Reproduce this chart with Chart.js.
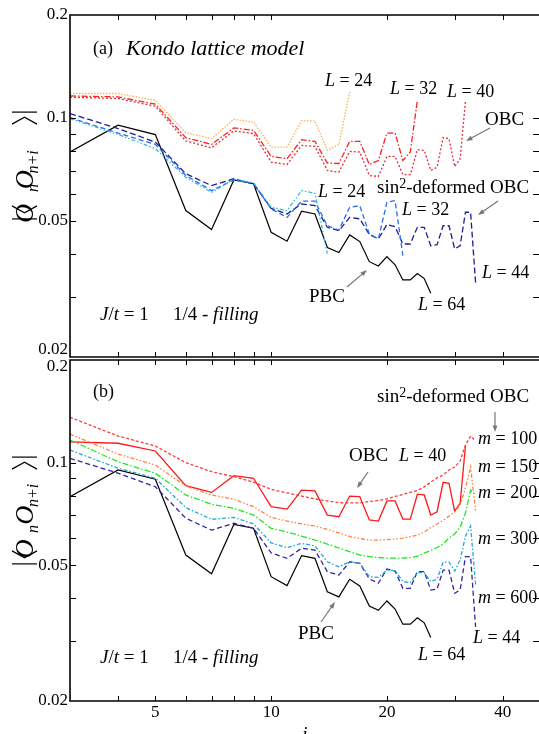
<!DOCTYPE html>
<html>
<head>
<meta charset="utf-8">
<script src="https://cdn.jsdelivr.net/npm/chart.js@4.4.0/dist/chart.umd.min.js"></script>
<style>
  html, body { margin: 0; padding: 0; background: #fff; overflow: hidden; }
  #wrap { position: relative; width: 539px; height: 734px; }
  #wrap canvas { position: absolute; left: 0; top: 0; }
</style>
</head>
<body>
<div id="wrap">
  <canvas id="panelA" width="539" height="734"></canvas>
  <canvas id="panelB" width="539" height="734"></canvas>
</div>
<script>
'use strict';

const SERIF = '"Liberation Serif", "Times New Roman", serif';

// distance i (x axis), shared by every series (series start at i = 3)
const sites = [3, 4, 5, 6, 7, 8, 9, 10, 11, 12, 13, 14, 15, 16, 17, 18, 19, 20,
               21, 22, 23, 24, 25, 26, 27, 28, 29, 30, 31, 32, 33, 34];

// PBC, L = 64 (same curve in both panels)
const pbcL64 = [0.0795, 0.0952, 0.0894, 0.0536, 0.0472, 0.0659, 0.0642, 0.0463, 0.0436, 0.0534,
                0.0524, 0.0418, 0.0404, 0.0455, 0.0435, 0.0380, 0.0369, 0.0393, 0.0372, 0.0336,
                0.0336, 0.0351, 0.0339, 0.0307];

// OBC
const obcL24 = [0.1179, 0.1179, 0.1126, 0.0906, 0.0870, 0.0991, 0.0973, 0.0822, 0.0822, 0.0980,
                0.0980, 0.0804, 0.0837, 0.1191];
const obcL32 = [0.1160, 0.1152, 0.1097, 0.0876, 0.0837, 0.0935, 0.0920, 0.0772, 0.0760, 0.0864,
                0.0854, 0.0738, 0.0736, 0.0854, 0.0854, 0.0731, 0.0751, 0.0903, 0.0903, 0.0751,
                0.0795, 0.1126];
const obcL40 = [0.1150, 0.1140, 0.1082, 0.0856, 0.0818, 0.0916, 0.0900, 0.0743, 0.0731, 0.0831,
                0.0826, 0.0702, 0.0694, 0.0798, 0.0795, 0.0679, 0.0674, 0.0772, 0.0772, 0.0683,
                0.0683, 0.0808, 0.0804, 0.0702, 0.0718, 0.0876, 0.0870, 0.0721, 0.0760, 0.1120];

// sin^2-deformed OBC
const sinL24 = [0.0996, 0.0895, 0.0813, 0.0671, 0.0606, 0.0662, 0.0647, 0.0548, 0.0536, 0.0613,
                0.0602, 0.0401];
const sinL32 = [0.1002, 0.0903, 0.0837, 0.0679, 0.0613, 0.0659, 0.0644, 0.0542, 0.0512, 0.0571,
                0.0571, 0.0484, 0.0470, 0.0548, 0.0554, 0.0458, 0.0443, 0.0567, 0.0573, 0.0396];
// L = 44, also the m = 600 curve of panel (b)
const sinL44 = [0.1030, 0.0931, 0.0850, 0.0687, 0.0634, 0.0664, 0.0642, 0.0544, 0.0524, 0.0561,
                0.0554, 0.0479, 0.0468, 0.0512, 0.0507, 0.0456, 0.0443, 0.0488, 0.0481, 0.0428,
                0.0428, 0.0479, 0.0479, 0.0423, 0.0426, 0.0484, 0.0484, 0.0414, 0.0423, 0.0530,
                0.0530, 0.0330];

// panel (b): sin^2-deformed OBC, L = 44, kept states m
const m100 = [0.1358, 0.1197, 0.1119, 0.1000, 0.0941, 0.0910, 0.0876, 0.0835, 0.0815, 0.0798,
              0.0783, 0.0772, 0.0763, 0.0762, 0.0762, 0.0769, 0.0775, 0.0783, 0.0796, 0.0807,
              0.0818, 0.0829, 0.0849, 0.0877, 0.0902, 0.0920, 0.0952, 0.0971, 0.1011, 0.1126,
              0.1197, 0.1157];
const m150 = [0.1213, 0.1060, 0.0984, 0.0854, 0.0804, 0.0781, 0.0743, 0.0691, 0.0674, 0.0661,
              0.0652, 0.0637, 0.0622, 0.0607, 0.0599, 0.0593, 0.0593, 0.0595, 0.0597, 0.0601,
              0.0607, 0.0613, 0.0626, 0.0645, 0.0661, 0.0677, 0.0697, 0.0717, 0.0751, 0.0843,
              0.0971, 0.0721];
const m200 = [0.1165, 0.1006, 0.0931, 0.0804, 0.0755, 0.0735, 0.0702, 0.0642, 0.0626, 0.0609,
              0.0593, 0.0577, 0.0562, 0.0548, 0.0536, 0.0530, 0.0527, 0.0525, 0.0525, 0.0525,
              0.0527, 0.0532, 0.0543, 0.0553, 0.0564, 0.0577, 0.0601, 0.0618, 0.0647, 0.0712,
              0.0831, 0.0804];
const m300 = [0.1089, 0.0963, 0.0900, 0.0738, 0.0682, 0.0691, 0.0661, 0.0582, 0.0563, 0.0580,
              0.0570, 0.0512, 0.0495, 0.0512, 0.0507, 0.0463, 0.0461, 0.0484, 0.0482, 0.0448,
              0.0445, 0.0476, 0.0476, 0.0448, 0.0455, 0.0511, 0.0511, 0.0481, 0.0518, 0.0609,
              0.0652, 0.0438];
const m600 = sinL44;

// axes
const xMin = 3, xMax = 49.7;
const yMin = 0.02, yMax = 0.2;
const xTicks = [4, 5, 6, 7, 8, 9, 10, 20, 30, 40];
const xTickLabels = ['5', '10', '20', '40'];
const yTicks = [0.03, 0.04, 0.05, 0.06, 0.07, 0.08, 0.09, 0.1];
const yTickLabels = ['0.02', '0.05', '0.1', '0.2'];

document.addEventListener('DOMContentLoaded', () => {

    const f = (size, italic) => (italic ? 'italic ' : '') + size + 'px ' + SERIF;

    function series(values) {
        return values.map((v, k) => ({ x: sites[k], y: v }));
    }

    function line(values, color, dash, width) {
        return {
            data: series(values),
            borderColor: color,
            borderDash: dash || [],
            borderWidth: width || 1.3,
            pointRadius: 0,
            fill: false,
            tension: 0
        };
    }

    // draw a run of text pieces with different fonts
    function rich(ctx, x, y, parts) {
        ctx.textBaseline = 'middle';
        ctx.textAlign = 'left';
        let cx = x;
        parts.forEach(p => {
            ctx.font = p.f;
            ctx.fillText(p.t, cx, y + (p.dy || 0));
            cx += ctx.measureText(p.t).width;
        });
    }

    function arrow(ctx, x1, y1, x2, y2) {
        const ang = Math.atan2(y2 - y1, x2 - x1);
        const h = 7;
        ctx.strokeStyle = '#777'; ctx.fillStyle = '#777'; ctx.lineWidth = 1.2;
        ctx.beginPath();
        ctx.moveTo(x1, y1);
        ctx.lineTo(x2 - Math.cos(ang) * h * 0.8, y2 - Math.sin(ang) * h * 0.8);
        ctx.stroke();
        ctx.beginPath();
        ctx.moveTo(x2, y2);
        ctx.lineTo(x2 - h * Math.cos(ang - 0.35), y2 - h * Math.sin(ang - 0.35));
        ctx.lineTo(x2 - h * Math.cos(ang + 0.35), y2 - h * Math.sin(ang + 0.35));
        ctx.closePath();
        ctx.fill();
    }

    // |<O_n O_n+i>| rotated
    function yTitle(ctx, cx, cy) {
        ctx.save();
        ctx.translate(cx, cy);
        ctx.rotate(-Math.PI / 2);
        ctx.fillStyle = '#000'; ctx.strokeStyle = '#000';
        const big = f(26, true), sub = f(16, true);
        const pieces = [
            { k: 'bar', w: 7 }, { k: 'lb', w: 11 },
            { k: 't', t: 'O', f: big }, { k: 't', t: 'n', f: sub, dy: 5 }, { k: 'gap', w: 5 },
            { k: 't', t: 'O', f: big }, { k: 't', t: 'n+i', f: sub, dy: 5 },
            { k: 'rb', w: 11 }, { k: 'bar', w: 7 }
        ];
        let total = 0;
        pieces.forEach(p => {
            if (p.k === 't') { ctx.font = p.f; p.w = ctx.measureText(p.t).width + 1; }
            total += p.w;
        });
        let x = -total / 2;
        ctx.textBaseline = 'alphabetic';
        ctx.lineWidth = 1.2;
        pieces.forEach(p => {
            if (p.k === 'bar') {
                ctx.beginPath(); ctx.moveTo(x + 3, -21); ctx.lineTo(x + 3, 4); ctx.stroke();
            } else if (p.k === 'lb') {
                ctx.beginPath(); ctx.moveTo(x + 9, -21); ctx.lineTo(x + 2, -8.5); ctx.lineTo(x + 9, 4); ctx.stroke();
            } else if (p.k === 'rb') {
                ctx.beginPath(); ctx.moveTo(x + 2, -21); ctx.lineTo(x + 9, -8.5); ctx.lineTo(x + 2, 4); ctx.stroke();
            } else if (p.k === 't') {
                ctx.font = p.f; ctx.fillText(p.t, x, p.dy || 0);
            }
            x += p.w;
        });
        ctx.restore();
    }

    const framePlugin = {
        id: 'frame',
        afterDatasetsDraw(chart, args, opts) {
            const { ctx, chartArea: a } = chart;
            const xs = chart.scales.x, ys = chart.scales.y;
            ctx.save();
            ctx.strokeStyle = '#000';
            ctx.lineWidth = 1.6;
            ctx.beginPath();
            ctx.moveTo(a.right, a.top); ctx.lineTo(a.left, a.top);
            ctx.lineTo(a.left, a.bottom); ctx.lineTo(a.right, a.bottom);
            ctx.stroke();

            ctx.lineWidth = 1;
            ctx.beginPath();
            xTicks.forEach(v => {
                const px = Math.round(xs.getPixelForValue(v)) + 0.5;
                ctx.moveTo(px, a.top); ctx.lineTo(px, a.top + 5);
                ctx.moveTo(px, a.bottom); ctx.lineTo(px, a.bottom - 5);
            });
            yTicks.forEach(v => {
                const py = Math.round(ys.getPixelForValue(v)) + 0.5;
                ctx.moveTo(a.left, py); ctx.lineTo(a.left + 6, py);
                ctx.moveTo(a.right, py); ctx.lineTo(a.right - 6, py);
            });
            ctx.stroke();

            // y tick labels
            ctx.fillStyle = '#000';
            ctx.font = f(17);
            ctx.textAlign = 'right';
            ctx.textBaseline = 'middle';
            yTickLabels.forEach(s => {
                const v = parseFloat(s);
                const py = ys.getPixelForValue(v) + (opts.yShift[s] || 0);
                ctx.fillText(s, a.left - 2, py);
            });

            // x tick labels
            if (opts.xLabels) {
                ctx.textAlign = 'center';
                xTickLabels.forEach(s => {
                    ctx.fillText(s, xs.getPixelForValue(parseFloat(s)), a.bottom + 12);
                });
                ctx.font = f(19, true);
                ctx.textBaseline = 'top';
                ctx.fillText('i', 305, a.bottom + 24);
            }

            yTitle(ctx, 33, opts.titleY);

            ctx.fillStyle = '#000';
            opts.texts.forEach(t => rich(ctx, t.x, t.y, t.parts));
            opts.arrows.forEach(r => arrow(ctx, r[0], r[1], r[2], r[3]));
            ctx.restore();
        }
    };

    const R18 = f(18), I18 = f(18, true), R19 = f(19), I19 = f(19, true);
    const Lbl = (n) => [{ t: 'L', f: I18 }, { t: ' = ' + n, f: R18 }];
    const Mbl = (n) => [{ t: 'm', f: I18 }, { t: ' = ' + n, f: R18 }];
    const sinTxt = [{ t: 'sin', f: R19 }, { t: '2', f: f(14), dy: -4 }, { t: '-deformed OBC', f: R19 }];
    const jtTexts = (y) => [
        { x: 100, y: y, parts: [{ t: 'J', f: I19 }, { t: '/', f: R19 }, { t: 't', f: I19 }, { t: ' = 1', f: R19 }] },
        { x: 173, y: y, parts: [{ t: '1/4 - ', f: R19 }, { t: 'filling', f: I19 }] }
    ];

    function makeChart(id, datasets, padding, frame) {
        const ctx = document.getElementById(id).getContext('2d');
        return new Chart(ctx, {
            type: 'line',
            data: { datasets: datasets },
            options: {
                responsive: false,
                animation: false,
                events: [],
                layout: { padding: padding },
                plugins: { legend: { display: false }, tooltip: { enabled: false }, frame: frame },
                scales: {
                    x: { type: 'logarithmic', min: xMin, max: xMax, display: false },
                    y: { type: 'logarithmic', min: yMin, max: yMax, display: false }
                }
            },
            plugins: [framePlugin]
        });
    }

    // panel (a)
    makeChart('panelA', [
        line(obcL24, '#ffb050', [1.5, 1.5]),
        line(obcL32, '#ff2020', [6, 2, 1.5, 2]),
        line(obcL40, '#e0303c', [2, 2]),
        line(sinL24, '#30b8e8', [4, 2, 1.5, 2, 1.5, 2]),
        line(sinL32, '#2a6cf0', [5, 3]),
        line(sinL44, '#1c1c98', [6, 3]),
        line(pbcL64, '#000000', [], 1.2)
    ], { left: 70, top: 15, right: 0, bottom: 377 }, {
        yShift: { '0.02': -7 },
        xLabels: false,
        titleY: 165,
        texts: [
            { x: 93, y: 49, parts: [{ t: '(a)', f: R18 }] },
            { x: 126, y: 49, parts: [{ t: 'Kondo lattice model', f: f(22, true) }] },
            { x: 325, y: 81, parts: Lbl(24) },
            { x: 390, y: 89, parts: Lbl(32) },
            { x: 447, y: 92, parts: Lbl(40) },
            { x: 485, y: 120, parts: [{ t: 'OBC', f: R19 }] },
            { x: 377, y: 188, parts: sinTxt },
            { x: 318, y: 192, parts: Lbl(24) },
            { x: 402, y: 210, parts: Lbl(32) },
            { x: 482, y: 273, parts: Lbl(44) },
            { x: 309, y: 297, parts: [{ t: 'PBC', f: R19 }] },
            { x: 418, y: 305, parts: Lbl(64) }
        ].concat(jtTexts(315)),
        arrows: [[490, 128, 466, 141], [498, 201, 478, 215], [347, 287, 367, 270]]
    });

    // panel (b)
    makeChart('panelB', [
        line(m100, '#ff3a3a', [3, 2]),
        line(m150, '#ff8040', [4, 2, 1.5, 2, 1.5, 2]),
        line(m200, '#22e622', [6, 2, 1.5, 2]),
        line(m300, '#20a8d8', [4, 2, 1.5, 2]),
        line(m600, '#3322a8', [5, 3]),
        line(obcL40, '#ff1818', [], 1.3),
        line(pbcL64, '#000000', [], 1.2)
    ], { left: 70, top: 360, right: 0, bottom: 33 }, {
        yShift: { '0.2': 7 },
        xLabels: true,
        titleY: 510,
        texts: [
            { x: 93, y: 392, parts: [{ t: '(b)', f: R18 }] },
            { x: 377, y: 397, parts: sinTxt },
            { x: 478, y: 439, parts: Mbl(100) },
            { x: 478, y: 467, parts: Mbl(150) },
            { x: 478, y: 493, parts: Mbl(200) },
            { x: 478, y: 539, parts: Mbl(300) },
            { x: 478, y: 598, parts: Mbl(600) },
            { x: 473, y: 638, parts: Lbl(44) },
            { x: 349, y: 456, parts: [{ t: 'OBC', f: R19 }] },
            { x: 399, y: 456, parts: Lbl(40) },
            { x: 298, y: 634, parts: [{ t: 'PBC', f: R19 }] },
            { x: 418, y: 655, parts: Lbl(64) }
        ].concat(jtTexts(658)),
        arrows: [[495, 412, 495, 432], [368, 472, 357, 488], [321, 622, 335, 602]]
    });
});
</script>
</body>
</html>
